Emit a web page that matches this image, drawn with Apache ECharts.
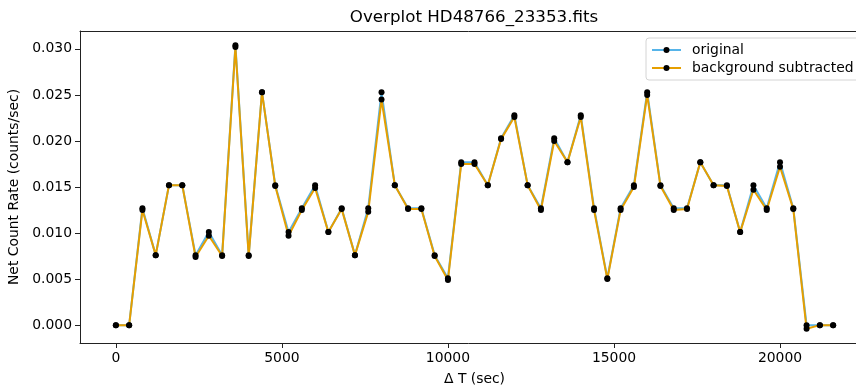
<!DOCTYPE html>
<html>
<head>
<meta charset="utf-8">
<script src="https://cdn.jsdelivr.net/npm/echarts@6/dist/echarts.min.js"></script>
<style>
  html, body { margin: 0; padding: 0; background: #fff; }
  #chart { width: 856px; height: 387px; }
</style>
</head>
<body>
<div id="chart"></div>
<script>
// Elapsed time of each bin (sec)
const deltaT = [
  0, 400, 800, 1200, 1600, 2000, 2400, 2800, 3200, 3600,
  4000, 4400, 4800, 5200, 5600, 6000, 6400, 6800, 7200, 7600,
  8000, 8400, 8800, 9200, 9600, 10000, 10400, 10800, 11200, 11600,
  12000, 12400, 12800, 13200, 13600, 14000, 14400, 14800, 15200, 15600,
  16000, 16400, 16800, 17200, 17600, 18000, 18400, 18800, 19200, 19600,
  20000, 20400, 20800, 21200, 21600
];

// Raw net count rate (counts/sec)
const originalRate = [
  0.0000, 0.0000, 0.0127, 0.0076, 0.0152, 0.0152, 0.0076, 0.0101, 0.0076, 0.0304,
  0.0076, 0.0253, 0.0152, 0.0101, 0.0127, 0.0152, 0.0101, 0.0127, 0.0076, 0.0127,
  0.0253, 0.0152, 0.0127, 0.0127, 0.0076, 0.0051, 0.0177, 0.0177, 0.0152, 0.0203,
  0.0228, 0.0152, 0.0127, 0.0203, 0.0177, 0.0228, 0.0127, 0.0051, 0.0127, 0.0152,
  0.0253, 0.0152, 0.0127, 0.0127, 0.0177, 0.0152, 0.0152, 0.0101, 0.0152, 0.0127,
  0.0177, 0.0127, 0.0000, 0.0000, 0.0000
];

// Net count rate after background subtraction (counts/sec)
const subtractedRate = [
  0.0000, 0.0000, 0.0125, 0.0076, 0.0152, 0.0152, 0.0074, 0.0097, 0.0075, 0.0302,
  0.0075, 0.0253, 0.0151, 0.0097, 0.0125, 0.0149, 0.0101, 0.0126, 0.0076, 0.0123,
  0.0245, 0.0152, 0.0126, 0.0126, 0.0075, 0.0049, 0.0175, 0.0175, 0.0152, 0.0202,
  0.0226, 0.0152, 0.0125, 0.0200, 0.0177, 0.0226, 0.0125, 0.0050, 0.0125, 0.0150,
  0.0250, 0.0151, 0.0125, 0.0126, 0.0177, 0.0152, 0.0151, 0.0101, 0.0147, 0.0125,
  0.0172, 0.0126, -0.0004, 0.0000, 0.0000
];

const xTicks = [0, 5000, 10000, 15000, 20000];
const yTicks = [0, 0.005, 0.010, 0.015, 0.020, 0.025, 0.030];

const seriesNames = ['original', 'background subtracted'];

const pairs = (ys) => deltaT.map((t, i) => [t, ys[i]]);

const FONT = 'DejaVu Sans';
const INK = '#000';
const SPINE = '#222';

// 5% padding around the data range on each axis
const X_MIN = -1080;
const X_MAX = 22680;
const Y_MIN = -0.00194;
const Y_MAX = 0.03194;

const chart = echarts.init(document.getElementById('chart'), null, { renderer: 'canvas' });

function lineSeries(name, values, color) {
  return {
    name: name,
    type: 'line',
    data: pairs(values),
    symbol: 'circle',
    symbolSize: 6,
    showAllSymbol: true,
    lineStyle: { color: color, width: 2 },
    itemStyle: { color: '#000', borderWidth: 0 },
    emphasis: { disabled: true },
    z: 2
  };
}

chart.setOption({
  animation: false,
  backgroundColor: '#fff',
  title: {
    text: 'Overplot HD48766_23353.fits',
    left: 474,
    textAlign: 'center',
    top: 9,
    padding: 0,
    textStyle: { fontFamily: FONT, fontSize: 16.7, fontWeight: 'normal', color: INK }
  },
  legend: {
    orient: 'vertical',
    left: 646,
    top: 38,
    data: seriesNames,
    itemWidth: 29,
    itemHeight: 7.5,
    itemGap: 4,
    padding: [5, 8, 5, 5],
    backgroundColor: '#fff',
    borderColor: '#d4d4d4',
    borderWidth: 1,
    borderRadius: 3,
    textStyle: { fontFamily: FONT, fontSize: 13.9, color: INK, padding: [0, 0, 0, 6] }
  },
  grid: {
    left: 80,
    right: -13,
    top: 31,
    bottom: 44,
    outerBoundsMode: 'none',
    containLabel: false,
    show: false
  },
  xAxis: [{
    type: 'value',
    min: X_MIN,
    max: X_MAX,
    name: 'Δ T (sec)',
    nameLocation: 'middle',
    nameGap: 29,
    nameTextStyle: { fontFamily: FONT, fontSize: 13.9, color: INK },
    axisLine: { show: true, onZero: false, lineStyle: { color: SPINE, width: 1 } },
    axisTick: { show: true, inside: false, length: 5, customValues: xTicks, lineStyle: { color: SPINE } },
    axisLabel: {
      customValues: xTicks,
      margin: 8,
      fontFamily: FONT,
      fontSize: 13.9,
      color: INK,
      formatter: (v) => String(v)
    },
    splitLine: { show: false }
  }, {
    // top spine
    type: 'value',
    position: 'top',
    min: X_MIN,
    max: X_MAX,
    axisLine: { show: true, onZero: false, lineStyle: { color: SPINE, width: 1 } },
    axisTick: { show: false },
    axisLabel: { show: false },
    splitLine: { show: false }
  }],
  yAxis: {
    type: 'value',
    min: Y_MIN,
    max: Y_MAX,
    name: 'Net Count Rate (counts/sec)',
    nameLocation: 'middle',
    nameGap: 54,
    nameTextStyle: { fontFamily: FONT, fontSize: 13.9, color: INK },
    axisLine: { show: true, onZero: false, lineStyle: { color: SPINE, width: 1 } },
    axisTick: { show: true, inside: false, length: 5, customValues: yTicks, lineStyle: { color: SPINE } },
    axisLabel: {
      customValues: yTicks,
      margin: 8,
      fontFamily: FONT,
      fontSize: 13.9,
      color: INK,
      formatter: (v) => v.toFixed(3)
    },
    splitLine: { show: false }
  },
  series: [
    lineSeries(seriesNames[0], originalRate, '#56B4E9'),
    lineSeries(seriesNames[1], subtractedRate, '#E69F00')
  ]
});
</script>
</body>
</html>
